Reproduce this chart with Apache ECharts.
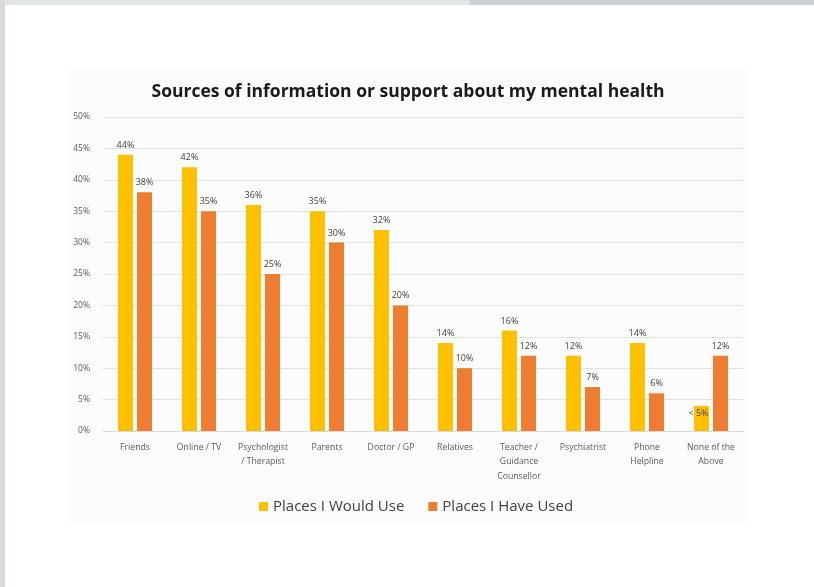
<!DOCTYPE html>
<html>
<head>
<meta charset="utf-8">
<script src="https://cdn.jsdelivr.net/npm/echarts@6/dist/echarts.min.js"></script>
<style>
  html, body { margin: 0; padding: 0; width: 814px; height: 587px; overflow: hidden; background: #ffffff; }
  #chart { width: 814px; height: 587px; }
</style>
</head>
<body>
<div id="chart"></div>
<script>
// Survey categories (line breaks follow the axis label wrapping)
const categories = [
  'Friends',
  'Online / TV',
  'Psychologist\n/ Therapist',
  'Parents',
  'Doctor / GP',
  'Relatives',
  'Teacher /\nGuidance\nCounsellor',
  'Psychiatrist',
  'Phone\nHelpline',
  'None of the\nAbove'
];

// Percentages per category
const wouldUse = [44, 42, 36, 35, 32, 14, 16, 12, 14, 4];
const haveUsed = [38, 35, 25, 30, 20, 10, 12, 7, 6, 12];

// Label text overrides (the last "would use" figure is reported as a bound)
const wouldUseLabels = ['44%', '42%', '36%', '35%', '32%', '14%', '16%', '12%', '14%', '< 5%'];

// Value axis ticks
const yMin = 0, yMax = 50, yStep = 5;

const seriesNames = ['Places I Would Use', 'Places I Have Used'];
const colors = ['#FFC000', '#ED7D31'];

const FONT = '"Open Sans", "Liberation Sans", sans-serif';

const labelStyle = {
  show: true,
  position: 'top',
  distance: 5,
  fontFamily: FONT,
  fontSize: 9,
  color: '#404040'
};

// The bounded value gets its label tucked into the top of its small bar
const wouldUseData = wouldUse.map((v, i) =>
  wouldUseLabels[i].startsWith('<')
    ? { value: v, label: { position: 'insideTop', distance: 3, offset: [-3, 0] } }
    : v
);

const chart = echarts.init(document.getElementById('chart'), null, { renderer: 'canvas' });

chart.setOption({
  animation: false,
  backgroundColor: '#ffffff',
  graphic: [
    // page frame strips
    { type: 'rect', left: 0, top: 0, shape: { width: 470, height: 5 }, style: { fill: '#e1e5e6' }, z: 0 },
    { type: 'rect', left: 470, top: 0, shape: { width: 344, height: 5 }, style: { fill: '#c9d1d4' }, z: 0 },
    { type: 'rect', left: 0, top: 0, shape: { width: 5, height: 587 }, style: { fill: '#d6dbdd' }, z: 0 },
    // chart panel
    { type: 'rect', left: 67, top: 68, shape: { width: 682, height: 455 }, style: { fill: '#fcfcfc' }, z: -1 }
  ],
  title: {
    text: 'Sources of information or support about my mental health',
    left: 403,
    textAlign: 'center',
    top: 78,
    textStyle: { fontFamily: FONT, fontSize: 17.5, fontWeight: 'bold', color: '#1a1a1a' }
  },
  legend: {
    data: seriesNames,
    left: 254,
    top: 494,
    itemWidth: 9,
    itemHeight: 9,
    itemGap: 24,
    icon: 'rect',
    textStyle: { fontFamily: FONT, fontSize: 15, color: '#404040' }
  },
  grid: { left: 103, right: 71, top: 117, bottom: 156, containLabel: false },
  xAxis: {
    type: 'category',
    data: categories,
    axisTick: { show: false },
    axisLine: { lineStyle: { color: '#d9d9d9' } },
    axisLabel: {
      interval: 0,
      margin: 9,
      fontFamily: FONT,
      fontSize: 8.7,
      lineHeight: 14.5,
      color: '#595959'
    }
  },
  yAxis: {
    type: 'value',
    min: yMin,
    max: yMax,
    interval: yStep,
    axisLine: { show: false },
    axisTick: { show: false },
    splitLine: { lineStyle: { color: '#e0e0e0', width: 1 } },
    axisLabel: {
      margin: 13,
      fontFamily: FONT,
      fontSize: 8.5,
      color: '#595959',
      formatter: v => v + '%'
    }
  },
  series: [
    {
      name: seriesNames[0],
      type: 'bar',
      data: wouldUseData,
      barWidth: 15,
      barGap: '27%',
      itemStyle: { color: colors[0] },
      label: Object.assign({}, labelStyle, {
        formatter: p => wouldUseLabels[p.dataIndex]
      })
    },
    {
      name: seriesNames[1],
      type: 'bar',
      data: haveUsed,
      barWidth: 15,
      itemStyle: { color: colors[1] },
      label: Object.assign({}, labelStyle, {
        formatter: p => p.value + '%'
      })
    }
  ]
});
</script>
</body>
</html>
